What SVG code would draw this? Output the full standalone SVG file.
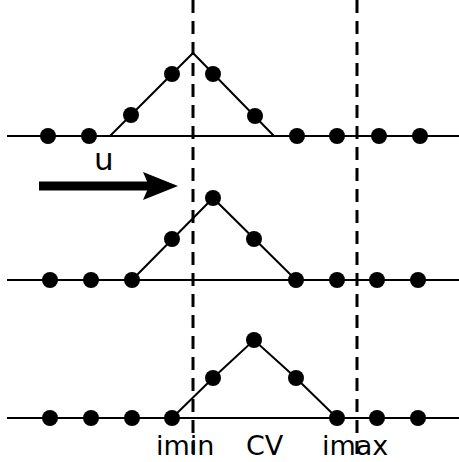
<svg xmlns="http://www.w3.org/2000/svg" width="459" height="462" viewBox="0 0 459 462">
<style>
.axis{stroke:#000;stroke-width:2;fill:none}
.tri{stroke:#000;stroke-width:2;fill:none;stroke-linejoin:miter}
.dash{stroke:#000;stroke-width:3;stroke-dasharray:13 8;fill:none}
.dot{fill:#000}
.lbl{font-family:"DejaVu Sans",sans-serif;font-size:27px;fill:#000}
</style>
<rect width="459" height="462" fill="#fff"/>
<g id="row1">
<line class="axis" x1="7" y1="136" x2="459" y2="136"/>
<polyline class="tri" points="110,136 193,53 274,136"/>
<g class="dot">
<circle cx="48" cy="136" r="8"/><circle cx="89" cy="136" r="8"/>
<circle cx="131" cy="115" r="8"/><circle cx="172" cy="74" r="8"/>
<circle cx="213" cy="74" r="8"/><circle cx="255" cy="116" r="8"/>
<circle cx="297" cy="136" r="8"/><circle cx="337" cy="136" r="8"/>
<circle cx="379" cy="136" r="8"/><circle cx="420" cy="136" r="8"/>
</g>
</g>
<g id="row2">
<line class="axis" x1="7" y1="280" x2="459" y2="280"/>
<polyline class="tri" points="132,280 213,198 296,280"/>
<g class="dot">
<circle cx="50" cy="280" r="8"/><circle cx="91" cy="280" r="8"/>
<circle cx="132" cy="280" r="8"/><circle cx="172" cy="239" r="8"/>
<circle cx="213" cy="198" r="8"/><circle cx="254" cy="239" r="8"/>
<circle cx="296" cy="280" r="8"/><circle cx="337" cy="280" r="8"/>
<circle cx="377" cy="280" r="8"/><circle cx="418" cy="280" r="8"/>
</g>
</g>
<g id="row3">
<line class="axis" x1="7" y1="418" x2="459" y2="418"/>
<polyline class="tri" points="172,418 213,378 254,340 296,378 337,418"/>
<g class="dot">
<circle cx="50" cy="418" r="8"/><circle cx="91" cy="418" r="8"/>
<circle cx="132" cy="418" r="8"/><circle cx="172" cy="418" r="8"/>
<circle cx="213" cy="378" r="8"/><circle cx="254" cy="340" r="8"/>
<circle cx="296" cy="378" r="8"/><circle cx="337" cy="418" r="8"/>
<circle cx="377" cy="418" r="8"/><circle cx="418" cy="418" r="8"/>
</g>
</g>
<g id="bounds">
<line class="dash" x1="193" y1="0" x2="193" y2="462"/>
<line class="dash" x1="357" y1="0" x2="357" y2="462"/>
</g>
<g id="velocity">
<rect x="39" y="181.5" width="110" height="9" fill="#000"/>
<path d="M143,172 L178,186 L143,200 L149,186 Z" fill="#000"/>
<text class="lbl" x="94" y="170" style="font-size:31px">u</text>
</g>
<g id="labels">
<text class="lbl" x="156" y="455">imin</text>
<text class="lbl" x="246" y="455">CV</text>
<text class="lbl" x="322" y="455">imax</text>
</g>
</svg>
